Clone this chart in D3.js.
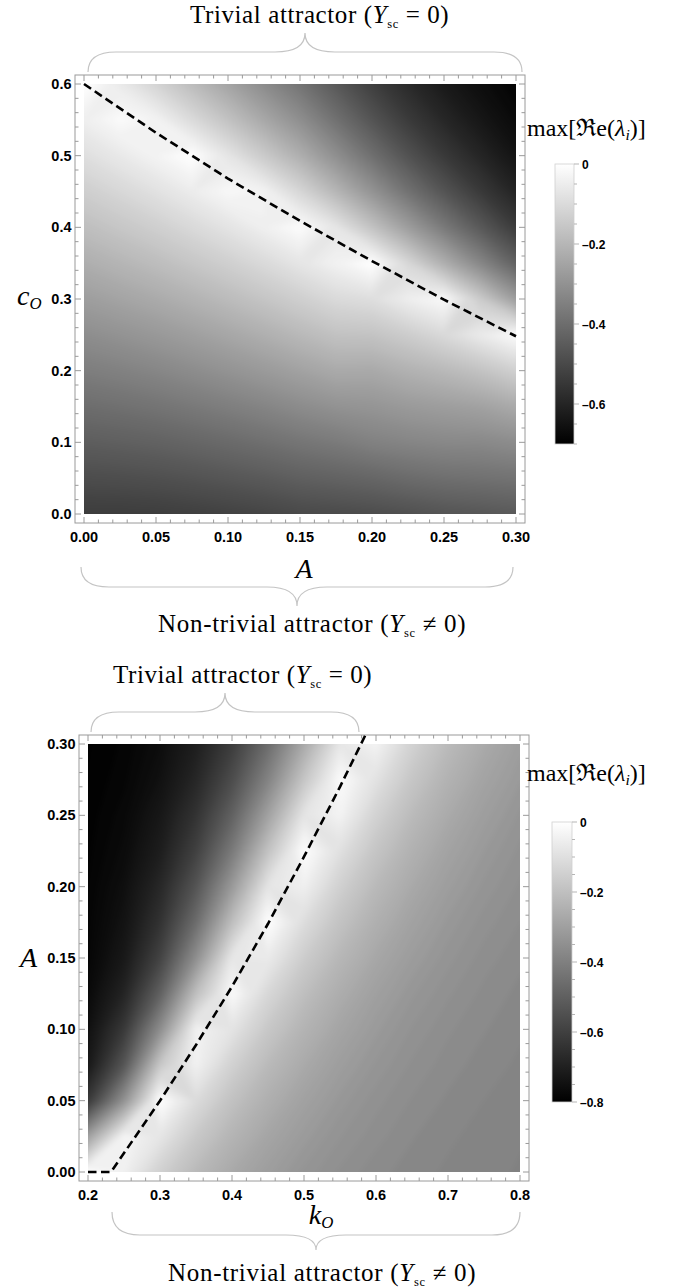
<!DOCTYPE html>
<html>
<head>
<meta charset="utf-8">
<script src="https://cdn.jsdelivr.net/npm/d3@7"></script>
<style>
  html, body { margin: 0; padding: 0; background: #fff; }
  svg { display: block; }
</style>
</head>
<body>
<div id="chart"></div>
<script>
// Stability maps: max real part of the eigenvalues over two parameter planes

// ---- panel 1: A (x) against c_O (y) ----
const topA = [0, 0.025, 0.05, 0.075, 0.1, 0.125, 0.15, 0.175, 0.2, 0.225, 0.25, 0.275, 0.3];
// rows run from c_O = 0.6 (top) down to 0
const topC = [0.6, 0.55, 0.5, 0.45, 0.4, 0.35, 0.3, 0.25, 0.2, 0.15, 0.1, 0.05, 0];
const topGrid = [
  [0, -0.058, -0.118, -0.185, -0.25, -0.318, -0.382, -0.457, -0.527, -0.585, -0.631, -0.664, -0.69],
  [-0.045, -0.014, -0.033, -0.1, -0.168, -0.239, -0.309, -0.39, -0.469, -0.538, -0.594, -0.638, -0.673],
  [-0.089, -0.061, -0.032, -0.002, -0.071, -0.145, -0.22, -0.307, -0.393, -0.474, -0.542, -0.598, -0.646],
  [-0.134, -0.109, -0.082, -0.052, -0.02, -0.033, -0.112, -0.201, -0.295, -0.387, -0.469, -0.541, -0.603],
  [-0.178, -0.156, -0.132, -0.104, -0.075, -0.043, -0.009, -0.069, -0.167, -0.268, -0.366, -0.455, -0.537],
  [-0.223, -0.203, -0.182, -0.157, -0.131, -0.102, -0.07, -0.037, 0, -0.109, -0.22, -0.329, -0.433],
  [-0.267, -0.25, -0.232, -0.21, -0.186, -0.16, -0.132, -0.102, -0.09, -0.047, -0.015, -0.142, -0.27],
  [-0.312, -0.298, -0.282, -0.263, -0.242, -0.219, -0.193, -0.168, -0.165, -0.138, -0.103, -0.057, -0.01],
  [-0.356, -0.345, -0.332, -0.315, -0.297, -0.277, -0.255, -0.233, -0.235, -0.213, -0.193, -0.167, -0.128],
  [-0.4, -0.392, -0.382, -0.368, -0.353, -0.336, -0.316, -0.299, -0.292, -0.277, -0.267, -0.256, -0.232],
  [-0.445, -0.439, -0.432, -0.421, -0.408, -0.394, -0.378, -0.364, -0.345, -0.335, -0.327, -0.325, -0.314],
  [-0.49, -0.487, -0.482, -0.474, -0.464, -0.453, -0.439, -0.43, -0.42, -0.405, -0.395, -0.39, -0.385],
  [-0.534, -0.534, -0.532, -0.526, -0.519, -0.511, -0.5, -0.495, -0.49, -0.481, -0.469, -0.462, -0.454]
];
const topLineA = [0, 0.05, 0.1, 0.15, 0.2, 0.25, 0.3];
const topLineC = [0.6, 0.532, 0.468, 0.409, 0.353, 0.299, 0.248];
const topXTicks = [0, 0.05, 0.1, 0.15, 0.2, 0.25, 0.3];
const topXLabels = ["0.00", "0.05", "0.10", "0.15", "0.20", "0.25", "0.30"];
const topYTicks = [0, 0.1, 0.2, 0.3, 0.4, 0.5, 0.6];
const topYLabels = ["0.0", "0.1", "0.2", "0.3", "0.4", "0.5", "0.6"];
const topBarTicks = [0, -0.2, -0.4, -0.6];
const topBarLabels = ["0", "\u20130.2", "\u20130.4", "\u20130.6"];

// ---- panel 2: k_O (x) against A (y) ----
const botK = [0.2, 0.25, 0.3, 0.35, 0.4, 0.45, 0.5, 0.55, 0.6, 0.65, 0.7, 0.75, 0.8];
// rows run from A = 0.3 (top) down to 0
const botA = [0.3, 0.275, 0.25, 0.225, 0.2, 0.175, 0.15, 0.125, 0.1, 0.075, 0.05, 0.025, 0];
const botGrid = [
  [-0.801, -0.788, -0.76, -0.705, -0.61, -0.461, -0.269, -0.075, -0.038, -0.141, -0.214, -0.267, -0.305],
  [-0.799, -0.783, -0.748, -0.679, -0.561, -0.388, -0.18, -0.013, -0.092, -0.179, -0.242, -0.287, -0.319],
  [-0.796, -0.774, -0.728, -0.64, -0.495, -0.293, -0.083, -0.038, -0.141, -0.214, -0.267, -0.305, -0.332],
  [-0.793, -0.766, -0.708, -0.597, -0.418, -0.19, -0.005, -0.098, -0.183, -0.245, -0.289, -0.32, -0.343],
  [-0.789, -0.754, -0.677, -0.535, -0.318, -0.082, -0.048, -0.148, -0.219, -0.27, -0.307, -0.333, -0.352],
  [-0.786, -0.742, -0.643, -0.46, -0.204, -0.002, -0.108, -0.19, -0.25, -0.292, -0.323, -0.345, -0.36],
  [-0.782, -0.724, -0.59, -0.352, -0.073, -0.064, -0.159, -0.227, -0.276, -0.311, -0.336, -0.355, -0.367],
  [-0.771, -0.687, -0.497, -0.199, -0.016, -0.125, -0.203, -0.259, -0.299, -0.328, -0.348, -0.363, -0.373],
  [-0.75, -0.622, -0.357, -0.04, -0.085, -0.174, -0.238, -0.284, -0.317, -0.341, -0.358, -0.369, -0.378],
  [-0.725, -0.53, -0.174, -0.043, -0.144, -0.217, -0.268, -0.306, -0.332, -0.352, -0.365, -0.375, -0.382],
  [-0.62, -0.34, 0, -0.112, -0.194, -0.252, -0.294, -0.324, -0.346, -0.361, -0.372, -0.38, -0.386],
  [-0.3, -0.03, -0.079, -0.17, -0.235, -0.282, -0.315, -0.339, -0.356, -0.369, -0.378, -0.384, -0.389],
  [0, -0.045, -0.146, -0.218, -0.27, -0.306, -0.333, -0.352, -0.366, -0.375, -0.382, -0.387, -0.391]
];
const botLineK = [0.2, 0.232, 0.3, 0.35, 0.4, 0.45, 0.5, 0.55, 0.586];
const botLineA = [0, 0, 0.05, 0.089, 0.13, 0.174, 0.221, 0.27, 0.307];
const botXTicks = [0.2, 0.3, 0.4, 0.5, 0.6, 0.7, 0.8];
const botXLabels = ["0.2", "0.3", "0.4", "0.5", "0.6", "0.7", "0.8"];
const botYTicks = [0, 0.05, 0.1, 0.15, 0.2, 0.25, 0.3];
const botYLabels = ["0.00", "0.05", "0.10", "0.15", "0.20", "0.25", "0.30"];
const botBarTicks = [0, -0.2, -0.4, -0.6, -0.8];
const botBarLabels = ["0", "\u20130.2", "\u20130.4", "\u20130.6", "\u20130.8"];

const W = 688, H = 1288;
const SERIF = "'Liberation Serif', 'DejaVu Serif', serif";
const SANS = "'Liberation Sans', Arial, sans-serif";

const svg = d3.select("#chart").append("svg").attr("width", W).attr("height", H);
svg.append("rect").attr("width", W).attr("height", H).attr("fill", "#fff");
const defs = svg.append("defs");

// soften the contour band edges a little (sRGB avoids banding in the darks)
defs.append("filter").attr("id", "soft")
  .attr("color-interpolation-filters", "sRGB")
  .append("feGaussianBlur").attr("stdDeviation", 2.5);

// text made of pieces: {t, it (italic), fs (relative size), dy}
function mathText(g, x, y, parts, size, spacing) {
  const t = g.append("text").attr("x", x).attr("y", y)
    .attr("font-family", SERIF).attr("font-size", size).attr("fill", "#000");
  if (spacing) t.attr("letter-spacing", spacing);
  parts.forEach(p => {
    const s = t.append("tspan").text(p.t);
    if (p.it) s.attr("font-style", "italic");
    if (p.fs) s.attr("font-size", size * p.fs);
    if (p.dy) s.attr("dy", p.dy);
  });
  return t;
}

// curly brace, horizontal; tip points towards yTip
function brace(g, x1, x2, xm, yEnd, yMid, yTip) {
  const r = 28, q = 30;
  const d = `M${x1},${yEnd} Q${x1},${yMid} ${x1 + r},${yMid} L${xm - q},${yMid} Q${xm},${yMid} ${xm},${yTip}` +
            ` Q${xm},${yMid} ${xm + q},${yMid} L${x2 - r},${yMid} Q${x2},${yMid} ${x2},${yEnd}`;
  g.append("path").attr("d", d).attr("fill", "none").attr("stroke", "#c4c4c4").attr("stroke-width", 1.2);
}

function drawPanel(p) {
  const g = svg.append("g");
  const x = d3.scaleLinear().domain(p.xDomain).range([p.box.x0, p.box.x1]);
  const y = d3.scaleLinear().domain(p.yDomain).range([p.box.y1, p.box.y0]);
  const colour = d3.scaleLinear().domain(p.cDomain).range(["#000", "#fff"]).clamp(true);

  // heat map drawn as filled contour bands of the grid
  defs.append("clipPath").attr("id", p.id + "-clip").append("rect")
    .attr("x", p.box.x0).attr("y", p.box.y0)
    .attr("width", p.box.x1 - p.box.x0).attr("height", p.box.y1 - p.box.y0);
  const nx = p.xs.length, ny = p.ys.length;
  const sx = p.xs[1] - p.xs[0], sy = p.ys[1] - p.ys[0];
  const proj = d3.geoTransform({
    point: function(u, v) {
      this.stream.point(x(p.xs[0] + (u - 0.5) * sx), y(p.ys[0] + (v - 0.5) * sy));
    }
  });
  const band = 0.01;
  const thresholds = d3.range(Math.round(p.cDomain[0] / band) - 1, 0).map(i => i * band);
  const bands = d3.contours().size([nx, ny]).thresholds(thresholds)(p.grid.flat());
  g.append("g").attr("clip-path", `url(#${p.id}-clip)`)
    .append("g").attr("filter", "url(#soft)")
    .selectAll("path").data(bands).join("path")
    .attr("d", d3.geoPath(proj))
    .attr("fill", d => colour(d.value + band / 2));

  // frame with ticks on all four sides
  const f = { x0: p.box.x0 - p.pad, x1: p.box.x1 + p.pad, y0: p.box.y0 - p.pad, y1: p.box.y1 + p.pad };
  g.append("rect").attr("x", f.x0).attr("y", f.y0)
    .attr("width", f.x1 - f.x0).attr("height", f.y1 - f.y0)
    .attr("fill", "none").attr("stroke", "#9a9a9a");
  const tg = g.append("g").attr("stroke", "#9a9a9a").attr("stroke-width", 1);
  const isMajor = (v, list) => list.some(m => Math.abs(m - v) < 1e-9);
  x.ticks(30).forEach(v => {
    const len = isMajor(v, p.xTicks) ? 6 : 3.5, px = x(v);
    tg.append("line").attr("x1", px).attr("x2", px).attr("y1", f.y1).attr("y2", f.y1 - len);
    tg.append("line").attr("x1", px).attr("x2", px).attr("y1", f.y0).attr("y2", f.y0 + len);
  });
  y.ticks(30).forEach(v => {
    const len = isMajor(v, p.yTicks) ? 6 : 3.5, py = y(v);
    tg.append("line").attr("y1", py).attr("y2", py).attr("x1", f.x0).attr("x2", f.x0 + len);
    tg.append("line").attr("y1", py).attr("y2", py).attr("x1", f.x1).attr("x2", f.x1 - len);
  });

  const lab = g.append("g").attr("font-family", SANS).attr("font-weight", "bold")
    .attr("font-size", 14.5).attr("fill", "#000");
  p.xTicks.forEach((v, i) => {
    lab.append("text").attr("x", x(v)).attr("y", f.y1 + 19).attr("text-anchor", "middle").text(p.xLabels[i]);
  });
  p.yTicks.forEach((v, i) => {
    lab.append("text").attr("x", f.x0 - 3.5).attr("y", y(v) + 5).attr("text-anchor", "end").text(p.yLabels[i]);
  });

  // boundary between the two attractors
  const line = d3.line().x(d => x(d[0])).y(d => y(d[1]));
  g.append("path").datum(d3.zip(p.lineX, p.lineY)).attr("d", line)
    .attr("fill", "none").attr("stroke", "#000").attr("stroke-width", 2.6)
    .attr("stroke-dasharray", "8.5,4.5");

  // colour bar
  const bs = d3.scaleLinear().domain(p.cDomain).range([p.bar.y1, p.bar.y0]);
  const grad = defs.append("linearGradient").attr("id", p.id + "-grad")
    .attr("x1", 0).attr("x2", 0).attr("y1", 0).attr("y2", 1);
  grad.append("stop").attr("offset", 0).attr("stop-color", colour(p.cDomain[1]));
  grad.append("stop").attr("offset", 1).attr("stop-color", colour(p.cDomain[0]));
  g.append("rect").attr("x", p.bar.x).attr("y", bs(p.cDomain[1]))
    .attr("width", p.bar.w).attr("height", bs(p.cDomain[0]) - bs(p.cDomain[1]))
    .attr("fill", `url(#${p.id}-grad)`).attr("stroke", "#d0d0d0").attr("stroke-width", 0.8);
  const bx = p.bar.x + p.bar.w;
  bs.ticks(Math.round(-p.cDomain[0] / 0.05)).forEach(v => {
    const major = isMajor(v, p.barTicks);
    g.append("line").attr("x1", bx).attr("x2", bx + (major ? 5 : 3))
      .attr("y1", bs(v)).attr("y2", bs(v)).attr("stroke", "#b5b5b5");
  });
  p.barTicks.forEach((v, i) => {
    g.append("text").attr("x", bx + 8).attr("y", bs(v) + 4.5)
      .attr("font-family", SANS).attr("font-weight", "bold").attr("font-size", 12)
      .text(p.barLabels[i]);
  });
  mathText(g, p.barTitle[0], p.barTitle[1], [
    { t: "max[\u211Ce(" }, { t: "\u03BB", it: 1 }, { t: "i", it: 1, fs: 0.65, dy: 4 }, { t: ")]", dy: -4 }
  ], 24);

  // annotations
  brace(g, ...p.braceTop);
  brace(g, ...p.braceBottom);
  mathText(g, p.titleTop[0], p.titleTop[1], [
    { t: "Trivial attractor (" }, { t: "Y", it: 1 }, { t: "sc", fs: 0.5, dy: 5 }, { t: " = 0)", dy: -5 }
  ], 25, 0.6);
  mathText(g, p.titleBottom[0], p.titleBottom[1], [
    { t: "Non-trivial attractor (" }, { t: "Y", it: 1 }, { t: "sc", fs: 0.5, dy: 5 }, { t: " \u2260 0)", dy: -5 }
  ], 25, 0.7);
  mathText(g, p.xTitle[0], p.xTitle[1], p.xTitleParts, 28).attr("text-anchor", "middle");
  mathText(g, p.yTitle[0], p.yTitle[1], p.yTitleParts, 28);
}

drawPanel({
  id: "p1", xs: topA, ys: topC, grid: topGrid,
  xDomain: [0, 0.3], yDomain: [0, 0.6], cDomain: [-0.7, 0],
  box: { x0: 84, x1: 516, y0: 84, y1: 514 }, pad: 9,
  xTicks: topXTicks, xLabels: topXLabels, yTicks: topYTicks, yLabels: topYLabels,
  lineX: topLineA, lineY: topLineC,
  bar: { x: 555, w: 19, y0: 164, y1: 444 }, barTicks: topBarTicks, barLabels: topBarLabels,
  barTitle: [527, 136],
  braceTop: [88, 522, 305, 72, 52, 33],
  braceBottom: [81, 513, 297, 567, 587, 606],
  titleTop: [190, 23], titleBottom: [158, 632],
  xTitle: [304, 578], xTitleParts: [{ t: "A", it: 1 }],
  yTitle: [17, 305], yTitleParts: [{ t: "c", it: 1 }, { t: "O", it: 1, fs: 0.6, dy: 4 }]
});

drawPanel({
  id: "p2", xs: botK, ys: botA, grid: botGrid,
  xDomain: [0.2, 0.8], yDomain: [0, 0.3], cDomain: [-0.8, 0],
  box: { x0: 88, x1: 520, y0: 744, y1: 1172 }, pad: 9,
  xTicks: botXTicks, xLabels: botXLabels, yTicks: botYTicks, yLabels: botYLabels,
  lineX: botLineK, lineY: botLineA,
  bar: { x: 552, w: 20, y0: 822, y1: 1102 }, barTicks: botBarTicks, barLabels: botBarLabels,
  barTitle: [527, 781],
  braceTop: [91, 359, 225, 732, 712, 693],
  braceBottom: [112, 520, 316, 1212, 1235, 1250],
  titleTop: [113, 683], titleBottom: [168, 1281],
  xTitle: [321, 1224], xTitleParts: [{ t: "k", it: 1 }, { t: "O", it: 1, fs: 0.6, dy: 4 }],
  yTitle: [20, 967], yTitleParts: [{ t: "A", it: 1 }]
});
</script>
</body>
</html>
